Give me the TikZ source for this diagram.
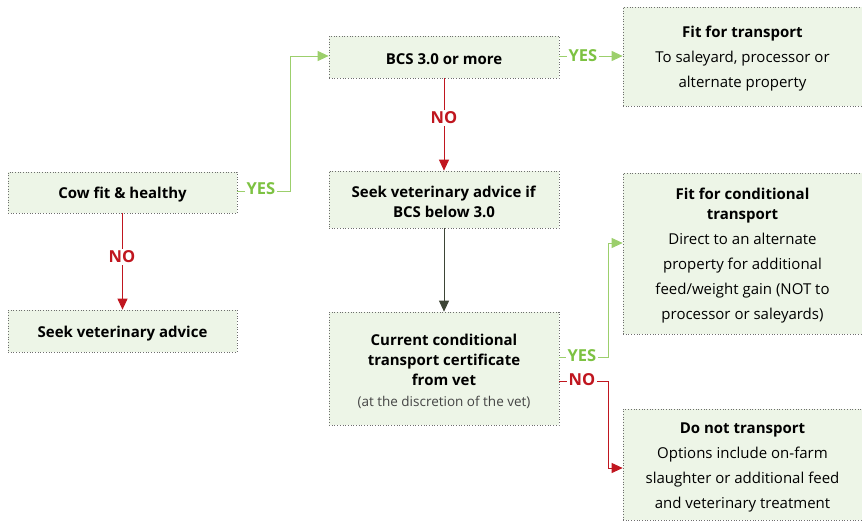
\documentclass[tikz,border=0pt]{standalone}
\usepackage{fontspec}
\setmainfont{Open Sans}
\usetikzlibrary{arrows.meta}
\definecolor{boxfill}{HTML}{EDF5E7}
\definecolor{boxline}{HTML}{6E6E6E}
\definecolor{yesgreen}{HTML}{7DC242}
\definecolor{yesline}{HTML}{9CCF6C}
\definecolor{nored}{HTML}{C0161F}
\definecolor{darkarrow}{HTML}{3D4536}
\definecolor{notegray}{HTML}{444444}
\tikzset{
  x=1pt,y=-1pt,
  box/.style={draw=boxline, dotted, line width=0.7pt, fill=boxfill, inner sep=0pt},
  boxtext/.style={align=center, inner sep=0pt, font=\fontsize{15}{25}\selectfont, yshift=-2.5pt},
  yeslab/.style={text=yesgreen, font=\fontsize{16.5}{18}\selectfont\bfseries, fill=white, inner sep=1.5pt},
  nolab/.style={text=nored, font=\fontsize{16.5}{18}\selectfont\bfseries, fill=white, inner sep=1.5pt},
  yesarrow/.style={draw=yesline, line width=1pt, -{Triangle[length=11pt,width=10pt]}, color=yesline},
  noarrow/.style={draw=nored, line width=1pt, -{Triangle[length=11pt,width=10pt]}},
  yesline/.style={draw=yesline, line width=1pt},
  noline/.style={draw=nored, line width=1pt},
}
\begin{document}
\begin{tikzpicture}
\useasboundingbox (0,0) rectangle (862,523);
% boxes
\node[box, minimum width=229pt, minimum height=41pt] (cow) at (122.5,192.5) {};
\node[boxtext] (cowt) at (cow.center) {\textbf{Cow fit \& healthy}};
\node[box, minimum width=229pt, minimum height=42pt] (seek) at (122.5,331) {};
\node[boxtext] (seekt) at (seek.center) {\textbf{Seek veterinary advice}};
\node[box, minimum width=230pt, minimum height=42pt] (bcs) at (444,57) {};
\node[boxtext] (bcst) at (bcs.center) {\textbf{BCS 3.0 or more}};
\node[box, minimum width=230pt, minimum height=57pt] (seekif) at (444,199.5) {};
\node[boxtext] (seekift) at (seekif.center) {\textbf{Seek veterinary advice if}\\[-5pt]\textbf{BCS below 3.0}};
\node[box, minimum width=230pt, minimum height=113pt] (cert) at (444,368.5) {};
\node[boxtext] (certt) at (cert.center) {\textbf{Current conditional}\\[-5pt]\textbf{transport certificate}\\[-5pt]\textbf{from vet}\\[-4pt]{\fontsize{13.5}{16}\selectfont\color{notegray}(at the discretion of the vet)}};
\node[box, minimum width=239pt, minimum height=99pt] (fit) at (742.5,56.5) {};
\node[boxtext] (fitt) at (fit.center) {\textbf{Fit for transport}\\To saleyard, processor or\\alternate property};
\node[box, minimum width=239pt, minimum height=161pt] (cond) at (742.5,253.5) {};
\node[boxtext] (condt) at (cond.center) {\textbf{Fit for conditional}\\[-5pt]\textbf{transport}\\Direct to an alternate\\property for additional\\feed/weight gain (NOT to\\processor or saleyards)};
\node[box, minimum width=239pt, minimum height=111pt] (dont) at (742.5,464.5) {};
\node[boxtext] (dontt) at (dont.center) {\textbf{Do not transport}\\Options include on-farm\\slaughter or additional feed\\and veterinary treatment};
% coordinates
\coordinate (c1) at (290,191);
\coordinate (c2) at (290,56);
\coordinate (c3) at (608,357);
\coordinate (c4) at (608,243);
\coordinate (c5) at (608,381);
\coordinate (c6) at (608,468);
% connectors
\draw[yesline] (cow.east |- c1) -- (c1) -- (c2);
\draw[yesarrow] (c2) -- (bcs.west |- c2);
\node[yeslab] at (261,189) {YES};
\draw[noarrow] (cow.south) -- (seek.north);
\node[nolab] at (122,257) {NO};
\draw[yesarrow] (bcs.east |- c2) -- (fit.west |- c2);
\node[yeslab] at (583,56) {YES};
\draw[noarrow] (bcs.south) -- (seekif.north);
\node[nolab] at (444,118) {NO};
\draw[draw=darkarrow, line width=1pt, -{Triangle[length=11pt,width=10pt]}] (seekif.south) -- (cert.north);
\draw[yesline] (cert.east |- c3) -- (c3) -- (c4);
\draw[yesarrow] (c4) -- (cond.west |- c4);
\node[yeslab] at (582,356) {YES};
\draw[noline] (cert.east |- c5) -- (c5) -- (c6);
\draw[noarrow] (c6) -- (dont.west |- c6);
\node[nolab] at (582,380) {NO};
\end{tikzpicture}
\end{document}
